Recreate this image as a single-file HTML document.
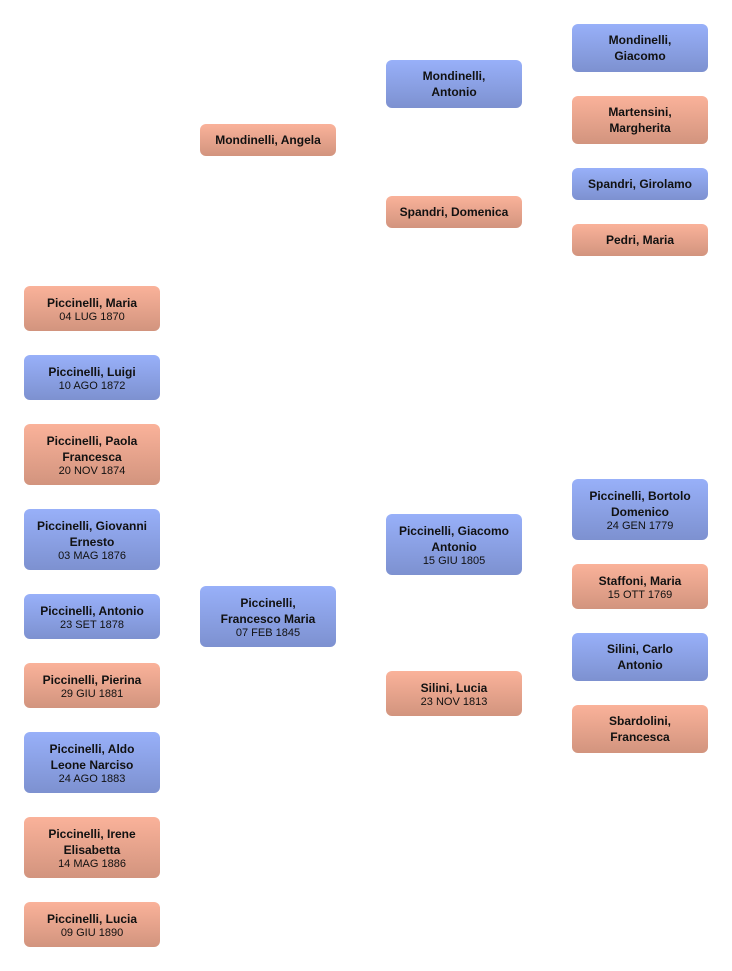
<!DOCTYPE html>
<html><head><meta charset="utf-8"><style>
html,body{margin:0;padding:0;background:#fff;width:732px;height:971px;overflow:hidden}
.b{position:absolute;width:136px;box-sizing:border-box;border-radius:6px;display:flex;flex-direction:column;justify-content:center;align-items:center;text-align:center;font-family:"Liberation Sans",sans-serif;color:#111}
.b b{font-size:12px;line-height:16px;font-weight:bold}
.b span{font-size:11px;line-height:12px}
.p{background:linear-gradient(#fab29a,#d2947e)}
.m{background:linear-gradient(#98b0f9,#7d91d0)}
</style></head><body>
<div class="b m" style="left:572px;top:24px;height:48px"><b>Mondinelli,<br>Giacomo</b></div>
<div class="b p" style="left:572px;top:96px;height:48px"><b>Martensini,<br>Margherita</b></div>
<div class="b m" style="left:572px;top:168px;height:32px"><b>Spandri, Girolamo</b></div>
<div class="b p" style="left:572px;top:224px;height:32px"><b>Pedri, Maria</b></div>
<div class="b m" style="left:572px;top:479px;height:61px"><b>Piccinelli, Bortolo<br>Domenico</b><span>24 GEN 1779</span></div>
<div class="b p" style="left:572px;top:564px;height:45px"><b>Staffoni, Maria</b><span>15 OTT 1769</span></div>
<div class="b m" style="left:572px;top:633px;height:48px"><b>Silini, Carlo<br>Antonio</b></div>
<div class="b p" style="left:572px;top:705px;height:48px"><b>Sbardolini,<br>Francesca</b></div>

<div class="b m" style="left:386px;top:60px;height:48px"><b>Mondinelli,<br>Antonio</b></div>
<div class="b p" style="left:386px;top:196px;height:32px"><b>Spandri, Domenica</b></div>
<div class="b m" style="left:386px;top:514px;height:61px"><b>Piccinelli, Giacomo<br>Antonio</b><span>15 GIU 1805</span></div>
<div class="b p" style="left:386px;top:671px;height:45px"><b>Silini, Lucia</b><span>23 NOV 1813</span></div>

<div class="b p" style="left:200px;top:124px;height:32px"><b>Mondinelli, Angela</b></div>
<div class="b m" style="left:200px;top:586px;height:61px"><b>Piccinelli,<br>Francesco Maria</b><span>07 FEB 1845</span></div>

<div class="b p" style="left:24px;top:286px;height:45px"><b>Piccinelli, Maria</b><span>04 LUG 1870</span></div>
<div class="b m" style="left:24px;top:355px;height:45px"><b>Piccinelli, Luigi</b><span>10 AGO 1872</span></div>
<div class="b p" style="left:24px;top:424px;height:61px"><b>Piccinelli, Paola<br>Francesca</b><span>20 NOV 1874</span></div>
<div class="b m" style="left:24px;top:509px;height:61px"><b>Piccinelli, Giovanni<br>Ernesto</b><span>03 MAG 1876</span></div>
<div class="b m" style="left:24px;top:594px;height:45px"><b>Piccinelli, Antonio</b><span>23 SET 1878</span></div>
<div class="b p" style="left:24px;top:663px;height:45px"><b>Piccinelli, Pierina</b><span>29 GIU 1881</span></div>
<div class="b m" style="left:24px;top:732px;height:61px"><b>Piccinelli, Aldo<br>Leone Narciso</b><span>24 AGO 1883</span></div>
<div class="b p" style="left:24px;top:817px;height:61px"><b>Piccinelli, Irene<br>Elisabetta</b><span>14 MAG 1886</span></div>
<div class="b p" style="left:24px;top:902px;height:45px"><b>Piccinelli, Lucia</b><span>09 GIU 1890</span></div>
</body></html>
